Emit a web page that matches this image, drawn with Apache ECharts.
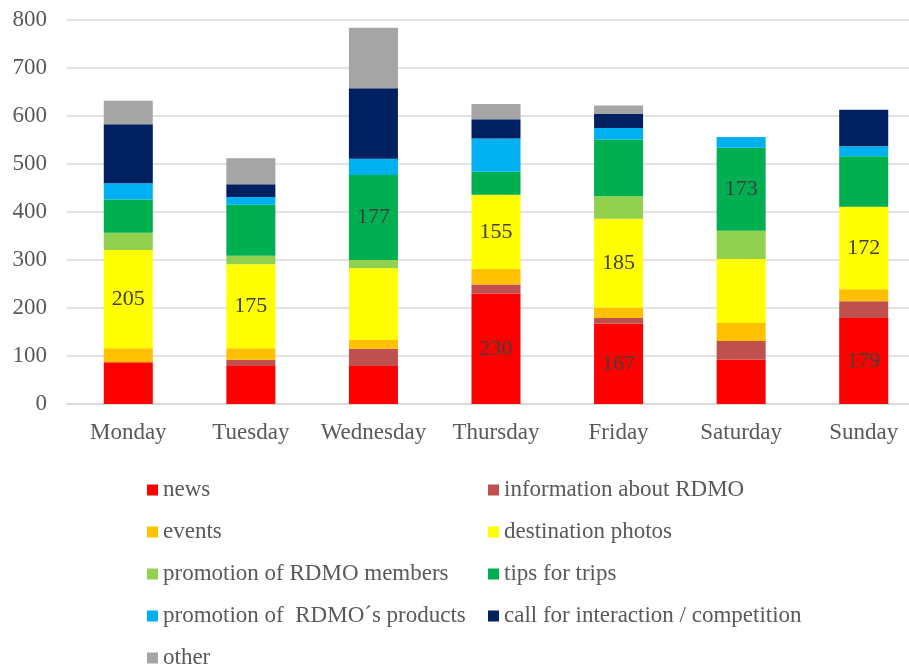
<!DOCTYPE html>
<html>
<head>
<meta charset="utf-8">
<script src="https://cdn.jsdelivr.net/npm/echarts@6/dist/echarts.min.js"></script>
<style>html,body{margin:0;padding:0;background:#fff}#c{width:909px;height:664px}</style>
</head>
<body>
<div id="c"></div>
<script>
var categories = ['Monday','Tuesday','Wednesday','Thursday','Friday','Saturday','Sunday'];
var seriesNames = ['news','information about RDMO','events','destination photos','promotion of RDMO members','tips for trips','promotion of  RDMO\u00b4s products','call for interaction / competition','other'];
var news        = [87, 79, 79, 230, 167, 92, 179];
var infoRDMO    = [0, 13, 36, 19, 12, 39, 35];
var events      = [29, 24, 19, 32, 22, 38, 25];
var photos      = [205, 175, 149, 155, 185, 133, 172];
var members     = [36, 18, 17, 0, 47, 59, 0];
var tips        = [69, 106, 177, 48, 118, 173, 105];
var products    = [34, 16, 34, 69, 24, 22, 21];
var call        = [123, 27, 147, 40, 29, 0, 76];
var other       = [49, 54, 126, 32, 18, 0, 0];
// which segments carry a value label: [series index, day index]
var labeled = [[3,0],[3,1],[5,2],[0,3],[3,3],[0,4],[3,4],[5,5],[0,6],[3,6]];
var yTicks = [0,100,200,300,400,500,600,700,800];

var colors = ['#FF0000','#C0504D','#FFC000','#FFFF00','#92D050','#00B050','#00B0F0','#002060','#A5A5A5'];
var allData = [news, infoRDMO, events, photos, members, tips, products, call, other];
var font = 'Liberation Serif';

var series = allData.map(function(arr, si){
  return {
    name: seriesNames[si], type: 'bar', stack: 'total', barWidth: '40%',
    itemStyle: {color: colors[si]},
    data: arr.map(function(v, di){
      var show = labeled.some(function(p){return p[0]===si && p[1]===di;});
      return {value: v, label: {show: show}};
    }),
    label: {position: 'inside', color: '#404040', fontFamily: font, fontSize: 22},
    emphasis: {disabled: true}
  };
});

var legendStyle = {color: '#595959', fontFamily: font, fontSize: 23, lineHeight: 24};
var chart = echarts.init(document.getElementById('c'));
chart.setOption({
  animation: false,
  grid: {left: 67, right: -16, top: 20, bottom: 260, containLabel: false, outerBoundsMode: 'none'},
  xAxis: {
    type: 'category', data: categories,
    axisLine: {lineStyle: {color: '#d9d9d9', width: 1.5}},
    axisTick: {show: false},
    axisLabel: {color: '#595959', fontFamily: font, fontSize: 23, margin: 17, interval: 0}
  },
  yAxis: {
    type: 'value', min: 0, max: 800, interval: 100,
    axisLine: {show: false}, axisTick: {show: false},
    splitLine: {lineStyle: {color: '#d9d9d9', width: 1.5}},
    axisLabel: {color: '#595959', fontFamily: font, fontSize: 23, margin: 20,
      formatter: function(v){ return yTicks.indexOf(v) >= 0 ? String(v) : ''; }}
  },
  legend: [
    {orient: 'vertical', left: 142, top: 473, height: 200, itemWidth: 11, itemHeight: 11, itemGap: 18, icon: 'rect',
     data: [seriesNames[0], seriesNames[2], seriesNames[4], seriesNames[6], seriesNames[8]], textStyle: legendStyle, selectedMode: false},
    {orient: 'vertical', left: 483, top: 473, height: 200, itemWidth: 11, itemHeight: 11, itemGap: 18, icon: 'rect',
     data: [seriesNames[1], seriesNames[3], seriesNames[5], seriesNames[7]], textStyle: legendStyle, selectedMode: false}
  ],
  series: series
});
</script>
</body>
</html>
